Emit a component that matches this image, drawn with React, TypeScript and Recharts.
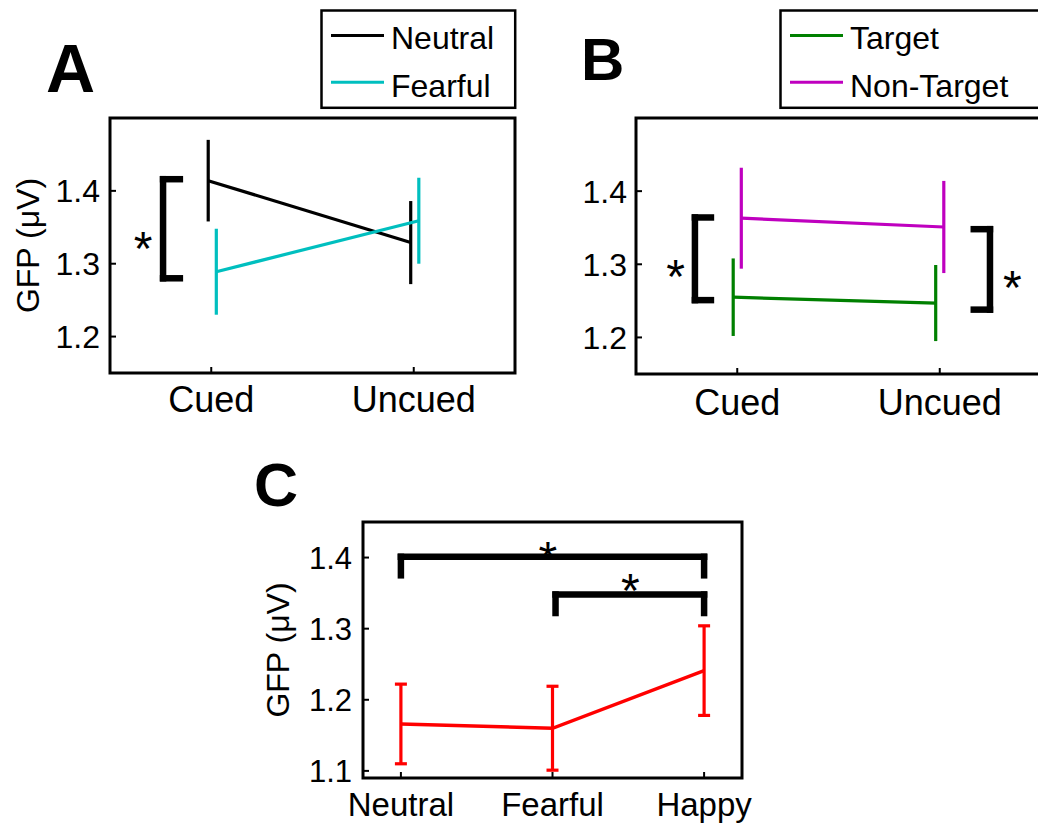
import React from 'react';
import {
  LineChart,
  Line,
  XAxis,
  YAxis,
  ErrorBar,
  ReferenceLine,
  ReferenceArea,
  ReferenceDot,
  Legend,
} from 'recharts';

const FONT = '"Liberation Sans", Arial, Helvetica, sans-serif';

// ---------- Panel A: cue x emotion ----------
const cueLabels = ['Cued', 'Uncued'];
const neutralMean = [1.414, 1.329];
const neutralSem = [0.056, 0.057];
const fearfulMean = [1.289, 1.359];
const fearfulSem = [0.059, 0.059];

// ---------- Panel B: cue x target ----------
const targetMean = [1.255, 1.247];
const targetSem = [0.053, 0.052];
const nonTargetMean = [1.363, 1.351];
const nonTargetSem = [0.069, 0.063];

// ---------- Panel C: emotion ----------
const emotionLabels = ['Neutral', 'Fearful', 'Happy'];
const emotionMean = [1.166, 1.16, 1.241];
const emotionSem = [0.056, 0.059, 0.063];

// ---------- axes ----------
const yTicksAB = [1.2, 1.3, 1.4];
const yTicksC = [1.1, 1.2, 1.3, 1.4];
const yDomainAB = [1.15, 1.5];
const yDomainC = [1.09, 1.45];
const yLabel = 'GFP (\u03bcV)';

// legend entries
const legendA = [
  { name: 'Neutral', color: '#000000' },
  { name: 'Fearful', color: '#00BFBF' },
];
const legendB = [
  { name: 'Target', color: '#008000' },
  { name: 'Non-Target', color: '#BF00BF' },
];

type Pt = { x: number; y: number; e: number };
const makeSeries = (means: number[], sems: number[], dodge: number): Pt[] =>
  means.map((y, i) => ({ x: i + 1 + dodge, y, e: sems[i] }));

const STAR = 48;

const bracketSide = (
  key: string,
  x: number,
  xEnd: number,
  yTop: number,
  yBot: number
) => {
  const common = {
    xAxisId: 'b',
    yAxisId: 'l',
    stroke: '#000',
    strokeWidth: 6.5,
    strokeLinecap: 'square' as const,
    ifOverflow: 'visible' as const,
  };
  return [
    <ReferenceLine key={key + 'v'} {...common} segment={[{ x, y: yTop }, { x, y: yBot }]} />,
    <ReferenceLine key={key + 't'} {...common} segment={[{ x, y: yTop }, { x: xEnd, y: yTop }]} />,
    <ReferenceLine key={key + 'b'} {...common} segment={[{ x, y: yBot }, { x: xEnd, y: yBot }]} />,
  ];
};

const bracketTop = (key: string, x1: number, x2: number, y: number, yLeg: number) => {
  const common = {
    xAxisId: 'b',
    yAxisId: 'l',
    stroke: '#000',
    strokeWidth: 6.5,
    strokeLinecap: 'square' as const,
    ifOverflow: 'visible' as const,
  };
  return [
    <ReferenceLine key={key + 'h'} {...common} segment={[{ x: x1, y }, { x: x2, y }]} />,
    <ReferenceLine key={key + 'l'} {...common} segment={[{ x: x1, y }, { x: x1, y: yLeg }]} />,
    <ReferenceLine key={key + 'r'} {...common} segment={[{ x: x2, y }, { x: x2, y: yLeg }]} />,
  ];
};

const star = (key: string, x: number, y: number) => (
  <ReferenceDot
    key={key}
    xAxisId="b"
    yAxisId="l"
    x={x}
    y={y}
    r={0}
    ifOverflow="visible"
    shape={(p: any) => (
      <text
        x={p.cx}
        y={p.cy}
        dy={STAR * 0.58}
        textAnchor="middle"
        fontSize={STAR}
        fill="#000"
        fontFamily={FONT}
      >
        *
      </text>
    )}
  />
);

const tickLineStyle = { stroke: '#000', strokeWidth: 2 };

const axes = (o: {
  xDomain: number[];
  xTicks: number[];
  xLabels: string[];
  xFont: number;
  xMargin: number;
  xHeight: number;
  yDomain: number[];
  yTicks: number[];
  yWidth: number;
  yMargin: number;
  yFont: number;
  yLabelOffset?: number;
}) => [
  <XAxis
    key="xb"
    xAxisId="b"
    dataKey="x"
    type="number"
    orientation="bottom"
    domain={o.xDomain}
    ticks={o.xTicks}
    interval={0}
    allowDataOverflow
    tickFormatter={(v: number) => o.xLabels[Math.round(v) - 1]}
    axisLine={false}
    tickLine={tickLineStyle}
    tickSize={-6}
    tickMargin={o.xMargin}
    height={o.xHeight}
    tick={{ fontSize: o.xFont, fill: '#000', fontFamily: FONT }}
  />,
  <XAxis
    key="xt"
    xAxisId="t"
    dataKey="x"
    type="number"
    orientation="top"
    domain={o.xDomain}
    ticks={o.xTicks}
    interval={0}
    allowDataOverflow
    tickFormatter={() => ''}
    axisLine={false}
    tickLine={tickLineStyle}
    tickSize={-6}
    height={0}
  />,
  <YAxis
    key="yl"
    yAxisId="l"
    type="number"
    orientation="left"
    domain={o.yDomain}
    ticks={o.yTicks}
    interval={0}
    allowDataOverflow
    tickFormatter={(v: number) => v.toFixed(1)}
    axisLine={false}
    tickLine={tickLineStyle}
    tickSize={-6}
    tickMargin={o.yMargin}
    width={o.yWidth}
    tick={{ fontSize: o.yFont, fill: '#000', fontFamily: FONT }}
    label={
      o.yLabelOffset !== undefined
        ? {
            value: yLabel,
            angle: -90,
            position: 'insideLeft',
            offset: o.yLabelOffset,
            fontSize: 32,
            fill: '#000',
            fontFamily: FONT,
            style: { textAnchor: 'middle' },
          }
        : undefined
    }
  />,
  <YAxis
    key="yr"
    yAxisId="r"
    type="number"
    orientation="right"
    domain={o.yDomain}
    ticks={o.yTicks}
    interval={0}
    allowDataOverflow
    tickFormatter={() => ''}
    axisLine={false}
    tickLine={tickLineStyle}
    tickSize={-6}
    width={0}
  />,
  <ReferenceArea
    key="box"
    xAxisId="b"
    yAxisId="l"
    x1={o.xDomain[0]}
    x2={o.xDomain[1]}
    y1={o.yDomain[0]}
    y2={o.yDomain[1]}
    fill="none"
    fillOpacity={0}
    stroke="#000"
    strokeWidth={3}
    ifOverflow="visible"
  />,
];

const legendBox = (items: { name: string; color: string }[], boxW: number) => () => (
  <svg width={boxW + 6} height={104} style={{ display: 'block', overflow: 'visible' }}>
    <rect x={1.5} y={1.5} width={boxW} height={97.3} fill="#fff" stroke="#000" strokeWidth={2.5} />
    {items.map((it, i) => (
      <g key={it.name}>
        <line
          x1={11}
          x2={64}
          y1={26.5 + i * 46.7}
          y2={26.5 + i * 46.7}
          stroke={it.color}
          strokeWidth={3}
        />
        <text x={71} y={39.8 + i * 47.7} fontSize={32} fill="#000" fontFamily={FONT}>
          {it.name}
        </text>
      </g>
    ))}
  </svg>
);

const seriesLine = (key: string, data: Pt[], color: string, capW: number, sw: number) => (
  <Line
    key={key}
    xAxisId="b"
    yAxisId="l"
    data={data}
    dataKey="y"
    name={key}
    type="linear"
    stroke={color}
    strokeWidth={sw}
    dot={false}
    activeDot={false}
    isAnimationActive={false}
  >
    <ErrorBar
      dataKey="e"
      direction="y"
      width={capW}
      stroke={color}
      strokeWidth={3.2}
      isAnimationActive={false}
    />
  </Line>
);

function PanelA() {
  return (
    <LineChart width={520} height={430} margin={{ top: 118, right: 5, bottom: 0, left: 10 }}>
      {axes({
        xDomain: [0.5, 2.5],
        xTicks: [1, 2],
        xLabels: cueLabels,
        xFont: 36,
        xMargin: 19,
        xHeight: 57,
        yDomain: yDomainAB,
        yTicks: yTicksAB,
        yWidth: 100,
        yMargin: 16,
        yFont: 32,
        yLabelOffset: 18,
      })}
      {seriesLine('Neutral', makeSeries(neutralMean, neutralSem, -0.015), legendA[0].color, 0, 3.2)}
      {seriesLine('Fearful', makeSeries(fearfulMean, fearfulSem, 0.025), legendA[1].color, 0, 3.2)}
      {bracketSide('ba', 0.762, 0.845, 1.416, 1.28)}
      {star('sa', 0.664, 1.336)}
      <Legend
        layout="horizontal"
        verticalAlign="middle"
        align="center"
        content={legendBox(legendA, 193.7)}
        wrapperStyle={{ left: 319.5, top: 8.5, width: 200, height: 104 }}
      />
    </LineChart>
  );
}

function PanelB() {
  return (
    <LineChart width={530} height={430} margin={{ top: 118, right: 9, bottom: 0, left: 10 }}>
      {axes({
        xDomain: [0.5, 2.5],
        xTicks: [1, 2],
        xLabels: cueLabels,
        xFont: 36,
        xMargin: 21,
        xHeight: 56,
        yDomain: yDomainAB,
        yTicks: yTicksAB,
        yWidth: 106,
        yMargin: 15,
        yFont: 32,
      })}
      {seriesLine('Target', makeSeries(targetMean, targetSem, -0.02), legendB[0].color, 0, 3.2)}
      {seriesLine('Non-Target', makeSeries(nonTargetMean, nonTargetSem, 0.02), legendB[1].color, 0, 3.2)}
      {bracketSide('bl', 0.791, 0.87, 1.364, 1.251)}
      {star('sl', 0.695, 1.299)}
      {bracketSide('br', 2.248, 2.168, 1.348, 1.238)}
      {star('sr', 2.359, 1.284)}
      <Legend
        layout="horizontal"
        verticalAlign="middle"
        align="center"
        content={legendBox(legendB, 300)}
        wrapperStyle={{ left: 259, top: 8.5, width: 310, height: 104 }}
      />
    </LineChart>
  );
}

function PanelC() {
  return (
    <LineChart width={520} height={363} margin={{ top: 62, right: 28, bottom: 0, left: 13 }}>
      {axes({
        xDomain: [0.75, 3.25],
        xTicks: [1, 2, 3],
        xLabels: emotionLabels,
        xFont: 33,
        xMargin: 21,
        xHeight: 45,
        yDomain: yDomainC,
        yTicks: yTicksC,
        yWidth: 100,
        yMargin: 17,
        yFont: 31,
        yLabelOffset: 15,
      })}
      {seriesLine('Emotion', makeSeries(emotionMean, emotionSem, 0), '#FF0000', 6, 3.4)}
      {bracketTop('c1', 1, 3, 1.401, 1.375)}
      {star('s1', 1.97, 1.414)}
      {bracketTop('c2', 2.02, 3, 1.348, 1.322)}
      {star('s2', 2.514, 1.369)}
    </LineChart>
  );
}

export default function App() {
  return (
    <div
      style={{
        position: 'absolute',
        left: 0,
        top: 0,
        width: 1038,
        height: 823,
        overflow: 'hidden',
        background: '#fff',
        fontFamily: FONT,
      }}
    >
      <div style={{ position: 'absolute', left: 0, top: 0 }}>
        <PanelA />
      </div>
      <div style={{ position: 'absolute', left: 520, top: 0 }}>
        <PanelB />
      </div>
      <div style={{ position: 'absolute', left: 250, top: 460 }}>
        <PanelC />
      </div>
      <svg
        width={1038}
        height={823}
        style={{ position: 'absolute', left: 0, top: 0, pointerEvents: 'none' }}
      >
        <text x={46} y={91.7} fontSize={68} fontWeight="bold" fontFamily={FONT} fill="#000">
          A
        </text>
        <text x={581} y={80} fontSize={60} fontWeight="bold" fontFamily={FONT} fill="#000">
          B
        </text>
        <text x={254} y={506} fontSize={61} fontWeight="bold" fontFamily={FONT} fill="#000">
          C
        </text>
      </svg>
    </div>
  );
}
